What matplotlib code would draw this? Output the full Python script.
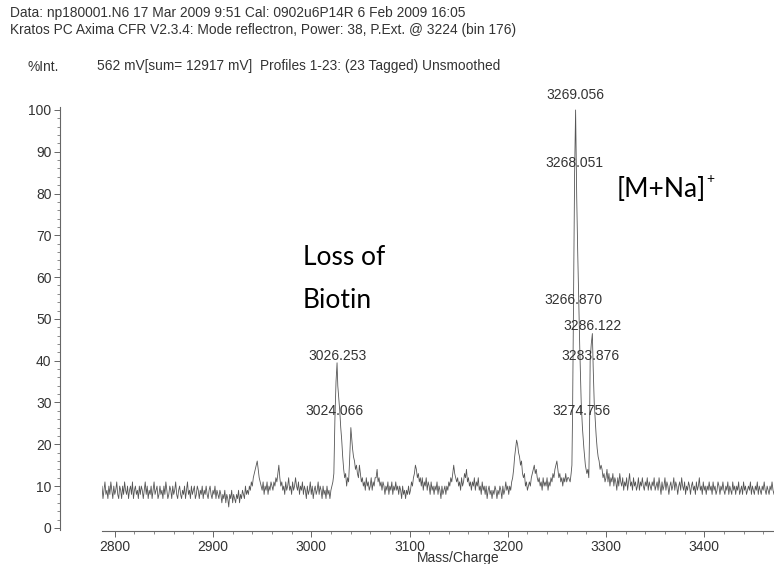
import numpy as np
import matplotlib
matplotlib.use("Agg")
import matplotlib.pyplot as plt
from matplotlib.ticker import MultipleLocator

# ---- spectrum data (m/z, % intensity) ----
# baseline trace sampled every 1 Da from 2786 to 3472 (rows of 20)
BASE_START = 2786
BASE_STEP = 1
baseline = [
    8, 10, 7, 9, 11, 8, 9, 7, 10, 8, 11, 9, 7, 10, 8, 9, 11, 8, 7, 10,         # 2786
    9, 7, 10, 8, 11, 9, 8, 10, 7, 9, 10, 8, 11, 7, 9, 10, 8, 9, 7, 10,         # 2806
    8, 10, 9, 7, 9, 11, 8, 10, 7, 9, 8, 10, 7, 9, 11, 8, 9, 10, 7, 8,          # 2826
    10, 8, 9, 7, 10, 8, 11, 9, 7, 8, 10, 9, 7, 10, 8, 9, 11, 8, 7, 9,          # 2846
    10, 8, 7, 9, 8, 10, 7, 9, 11, 8, 9, 7, 10, 8, 9, 10, 7, 8, 10, 9,          # 2866
    7, 9, 8, 10, 7, 9, 8, 10, 8, 7, 9, 10, 8, 7, 9, 8, 10, 7, 9, 8,            # 2886
    7, 9, 8, 6, 8, 7, 9, 6, 8, 7, 5, 8, 7, 9, 6, 8, 7, 6, 8, 7,                # 2906
    9, 6, 8, 7, 9, 8, 7, 10, 8, 9, 8, 10, 9, 11, 10, 12, 13, 14, 15, 16,       # 2926
    14, 12, 11, 10, 9, 11, 8, 10, 9, 11, 8, 10, 9, 11, 10, 9, 11, 10, 12, 11,  # 2946
    13, 15, 12, 10, 11, 9, 10, 8, 11, 9, 10, 12, 9, 10, 8, 11, 9, 10, 12, 10,  # 2966
    9, 11, 8, 10, 9, 11, 8, 10, 9, 7, 10, 8, 9, 11, 8, 10, 7, 9, 10, 8,        # 2986
    9, 11, 8, 10, 9, 7, 10, 8, 9, 7, 10, 8, 9, 7, 9, 11, 10, 12, 14, 12,       # 3006
    10, 10, 10, 10, 10, 10, 10, 10, 10, 10, 10, 10, 10, 10, 10, 10, 10, 10, 10, 10,  # 3026
    12, 13, 12, 15, 13, 11, 12, 10, 11, 9, 12, 10, 11, 9, 10, 12, 9, 11, 10, 12,     # 3046
    12, 14, 11, 12, 10, 11, 9, 11, 10, 8, 10, 9, 11, 8, 10, 9, 11, 8, 10, 9,   # 3066
    11, 9, 10, 8, 10, 9, 7, 10, 8, 9, 7, 9, 8, 10, 8, 9, 11, 10, 12, 13,       # 3086
    15, 14, 12, 13, 11, 12, 10, 12, 9, 11, 10, 12, 9, 11, 10, 8, 11, 9, 10, 8, # 3106
    10, 9, 11, 8, 10, 9, 7, 10, 8, 9, 10, 8, 10, 9, 11, 10, 12, 11, 13, 15,    # 3126
    13, 12, 11, 12, 10, 11, 9, 12, 10, 11, 13, 12, 14, 11, 12, 10, 11, 9, 11, 10,  # 3146
    12, 9, 11, 10, 12, 9, 10, 8, 11, 9, 10, 8, 10, 7, 9, 10, 8, 9, 7, 9,       # 3166
    8, 10, 9, 7, 9, 8, 10, 9, 7, 10, 8, 9, 11, 9, 10, 8, 10, 9, 11, 12,        # 3186
    14, 17, 19, 21, 20, 18, 17, 15, 16, 13, 12, 13, 10, 11, 9, 10, 11, 10, 12, 13,  # 3206
    14, 15, 13, 14, 12, 11, 12, 10, 11, 9, 12, 10, 11, 10, 12, 9, 11, 10, 12, 11,   # 3226
    13, 12, 14, 15, 16, 14, 12, 13, 11, 12, 10, 12, 11, 13, 11, 12, 12, 13, 12, 14,  # 3246
    12, 12, 12, 12, 12, 12, 12, 12, 12, 12, 12, 12, 12, 12, 12, 12, 12, 12, 12, 12,  # 3266
    12, 12, 12, 12, 12, 12, 12, 12, 12, 12, 14, 12, 13, 11, 12, 14, 11, 13, 10, 12,  # 3286
    11, 13, 10, 12, 11, 9, 12, 10, 13, 11, 10, 12, 9, 11, 10, 12, 9, 11, 13, 10,     # 3306
    11, 9, 12, 10, 11, 9, 10, 12, 9, 11, 10, 12, 10, 9, 11, 10, 12, 9, 11, 10,       # 3326
    9, 11, 10, 12, 9, 10, 11, 9, 12, 10, 8, 11, 9, 10, 12, 9, 11, 10, 8, 10,         # 3346
    11, 9, 10, 12, 9, 11, 10, 8, 10, 11, 9, 12, 10, 9, 11, 8, 10, 9, 11, 10,         # 3366
    8, 10, 11, 9, 10, 8, 11, 9, 10, 12, 9, 10, 8, 11, 9, 10, 8, 10, 9, 11,           # 3386
    9, 10, 8, 11, 9, 10, 8, 9, 11, 10, 8, 10, 9, 11, 9, 8, 10, 9, 11, 8,             # 3406
    10, 9, 8, 11, 9, 10, 8, 10, 9, 11, 8, 9, 10, 8, 11, 9, 10, 8, 9, 10,             # 3426
    9, 11, 8, 10, 9, 8, 10, 9, 11, 8, 10, 9, 8, 10, 9, 11, 9, 8, 10, 9,              # 3446
    8, 10, 9, 11, 9, 8, 10,                                                           # 3466
]

# loss-of-biotin cluster
biotin_mz = [3020, 3022, 3023, 3024.066, 3025.2, 3026.253, 3027, 3028, 3029,
             3030, 3031, 3032, 3033, 3034, 3035, 3036, 3037, 3038, 3039,
             3040.3, 3041, 3042, 3043, 3044, 3045, 3046]
biotin_int = [9, 11, 13, 26, 35, 39.5, 34, 31, 28,
              24, 21, 17, 14, 12, 13, 10, 12, 11, 16,
              24, 22, 19, 17, 16, 14, 15]

# [M+Na]+ cluster
mna_mz = [3262, 3263.5, 3264.5, 3265.3, 3266.0, 3266.870, 3267.5, 3268.051,
          3268.6, 3269.056, 3269.6, 3270.2, 3271.2, 3272.2, 3273.3, 3274.756,
          3276, 3277.5, 3279, 3280.5, 3281.5, 3282.5, 3283.2, 3283.876, 3285,
          3286.122, 3287, 3288, 3289, 3290, 3291, 3292, 3293, 3294, 3295]
mna_int = [12, 11, 13, 15, 28, 52, 72, 85,
           94, 100, 90, 79, 66, 55, 43, 30,
           24, 19, 15, 13, 14, 12, 22, 40, 44,
           46.5, 38, 30, 26, 22, 19, 17, 16, 14, 15]

# peak labels and the height (% units) each one is printed at
peak_labels = ["3269.056", "3268.051", "3266.870", "3286.122",
               "3283.876", "3274.756", "3026.253", "3024.066"]
label_heights = [103.6, 87.3, 54.5, 48.3, 41.1, 28.0, 41.1, 28.0]

# ---- assemble trace ----
mz = BASE_START + BASE_STEP * np.arange(len(baseline), dtype=float)
inten = np.array(baseline, dtype=float)
for cmz, cint in ((biotin_mz, biotin_int), (mna_mz, mna_int)):
    keep = (mz < cmz[0]) | (mz > cmz[-1])
    mz = np.concatenate([mz[keep], cmz])
    inten = np.concatenate([inten[keep], cint])
order = np.argsort(mz)
mz, inten = mz[order], inten[order]

# ---- figure ----
W, H = 774, 564
fig = plt.figure(figsize=(W / 100, H / 100), dpi=100)
ax = fig.add_axes([102 / W, 33 / H, 672 / W, 427.3 / H])

ink = "#333333"
ax.plot(mz, inten, color="#555555", lw=0.6)

ax.set_xlim(2787, 3471)
ax.set_ylim(-0.75, 101.5)

for s in ("top", "right"):
    ax.spines[s].set_visible(False)
ax.spines["left"].set_position(("outward", 30))
ax.spines["left"].set_bounds(-0.5, 100.7)
for s in ("left", "bottom"):
    ax.spines[s].set_color("#666666")
    ax.spines[s].set_linewidth(0.8)

ax.xaxis.set_major_locator(MultipleLocator(100))
ax.xaxis.set_minor_locator(MultipleLocator(20))
ax.yaxis.set_major_locator(MultipleLocator(10))
ax.yaxis.set_minor_locator(MultipleLocator(2))
ax.tick_params(which="major", direction="out", length=4.3, width=0.7,
               color="#666666", labelsize=10, labelcolor=ink, pad=2,
               labelfontfamily="Liberation Sans")
ax.tick_params(which="minor", direction="out", length=2.4, width=0.6,
               color="#777777")

ax.set_xlabel("Mass/Charge", fontsize=10, color=ink, family="Liberation Sans")
ax.xaxis.set_label_coords(0.53, -0.047)

for txt, h in zip(peak_labels, label_heights):
    ax.text(float(txt), h, txt, ha="center", va="center", fontsize=10,
            color=ink, family="Liberation Sans", clip_on=False)

note = dict(fontsize=19, family="Lato", color="black", va="center", ha="left")
ax.text(2991.6, 64.6, "Loss of", **note)
ax.text(2991.6, 54.5, "Biotin", **note)
mna = ax.text(3311, 80.9, "[M+Na]", **note)
ax.annotate("+", xy=(1, 1), xycoords=mna, xytext=(0.5, -1.5),
            textcoords="offset points", fontsize=10, family="Lato",
            color="black", ha="left", va="center")

# instrument header
hdr = dict(fontsize=9.9, color=ink, family="Liberation Sans", va="center", ha="left")
fig.text(10 / W, 1 - 13 / H,
         "Data: np180001.N6 17 Mar 2009 9:51 Cal: 0902u6P14R 6 Feb 2009 16:05", **hdr)
fig.text(10 / W, 1 - 30 / H,
         "Kratos PC Axima CFR V2.3.4: Mode reflectron, Power: 38, P.Ext. @ 3224 (bin 176)", **hdr)
fig.text(28 / W, 1 - 67 / H, "%Int.", **hdr)
fig.text(97 / W, 1 - 66 / H,
         "562 mV[sum= 12917 mV]  Profiles 1-23: (23 Tagged) Unsmoothed", **hdr)

fig.savefig("out.png", dpi=100)
